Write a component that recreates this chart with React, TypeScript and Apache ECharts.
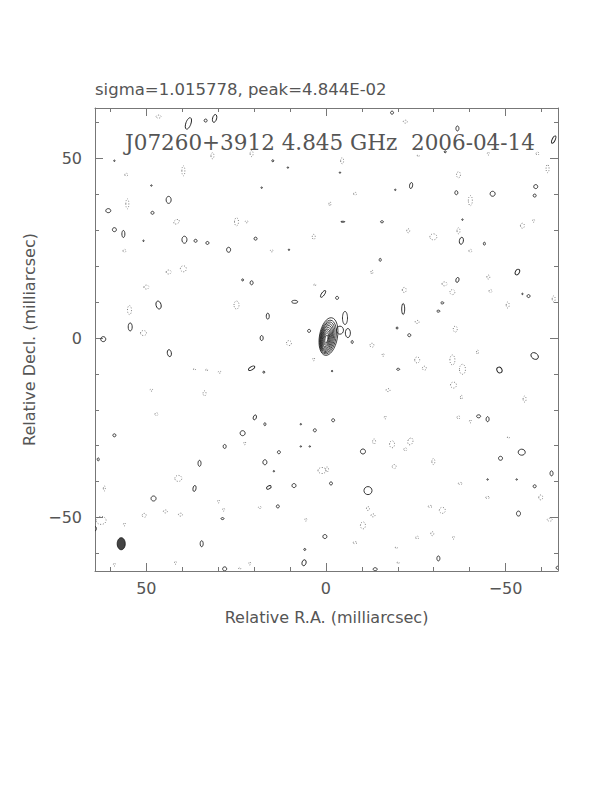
import React, { useEffect, useRef } from "react";
import * as echarts from "echarts";

// Contours: [ra, dec, semiAxisX, semiAxisY, tiltDegClockwise] in milliarcsec
const CORE_CONTOURS: number[][] = [
  [-0.7, 0.42, 2.51, 5.31, 10],
  [-0.56, 0.28, 2.23, 4.75, 10],
  [-0.45, 0.2, 1.96, 4.33, 10],
  [-0.34, 0.11, 1.73, 3.91, 10],
  [-0.25, 0.03, 1.51, 3.49, 10],
  [-0.17, -0.06, 1.28, 3.07, 10],
  [-0.11, -0.11, 1.06, 2.65, 10],
  [-0.08, -0.17, 0.84, 2.23, 10],
  [-0.08, -0.22, 0.61, 1.73, 10],
  [-0.11, -0.28, 0.39, 1.17, 10],
];

const POSITIVE_CONTOURS: number[][] = [
  [38.3, 59.8, 0.7, 1.68, 20], [33.5, 60.6, 0.42, 0.42, 0], [31.0, 61.2, 0.56, 1.12, 15],
  [43.8, 38.5, 0.7, 0.98, 0], [60.6, 35.5, 0.7, 0.56, 0], [48.3, 34.9, 0.42, 0.42, 0],
  [58.9, 30.2, 0.56, 0.56, 0], [56.4, 29.0, 0.42, 0.98, 0], [39.4, 27.4, 0.7, 0.98, 0],
  [36.3, 27.1, 0.42, 0.42, 0], [33.0, 26.5, 0.42, 0.42, 0], [27.1, 24.6, 0.56, 0.7, 0],
  [19.6, 27.7, 0.42, 0.42, 0], [14.8, 49.4, 0.28, 0.28, 0], [-18.4, 62.8, 0.42, 0.42, 0],
  [-36.6, 58.4, 0.42, 0.7, 0], [-63.4, 55.3, 0.42, 1.12, 25], [-33.2, 51.9, 0.28, 0.28, 0],
  [-23.7, 42.5, 0.42, 0.84, 10], [-36.3, 40.5, 0.42, 0.56, 0], [-46.4, 40.2, 0.7, 0.7, 0],
  [-58.4, 42.2, 0.56, 0.56, 0], [-58.1, 39.7, 0.42, 0.42, 0], [-15.6, 32.4, 0.42, 0.28, 0],
  [-4.7, 32.4, 0.56, 0.14, 0], [-37.7, 27.1, 0.56, 0.98, 10], [-44.1, 26.3, 0.28, 0.42, 0],
  [-15.1, 21.8, 0.28, 0.42, 0], [46.6, 9.2, 0.7, 1.12, -15], [54.5, 3.1, 0.56, 1.12, 0],
  [62.0, -0.3, 0.7, 0.7, 0], [43.6, -4.2, 0.56, 0.98, -10], [20.7, 15.4, 0.42, 0.56, 0],
  [23.2, 16.2, 0.28, 0.28, 0], [8.7, 10.1, 0.84, 0.42, 0], [16.2, 6.1, 0.42, 0.84, 0],
  [17.9, 0.0, 0.42, 0.7, 0], [4.7, 2.0, 0.42, 0.42, 0], [0.8, 12.3, 0.42, 1.12, 35],
  [20.7, -8.4, 0.98, 0.42, -30], [17.3, -9.5, 0.28, 0.28, 0], [19.8, -22.1, 0.42, 0.7, 20],
  [-3.1, 11.2, 0.42, 0.42, 0], [-5.3, 5.6, 0.7, 1.82, 0], [-3.9, 2.2, 0.98, 1.12, 0],
  [-6.1, 1.4, 0.7, 1.26, 0], [-7.3, -1.1, 0.28, 0.42, 0], [-21.5, 8.1, 0.42, 1.54, 0],
  [-19.8, 2.8, 0.28, 0.28, 0], [-23.2, 0.8, 0.42, 0.42, 0], [-36.6, 16.2, 0.42, 0.7, 15],
  [-32.4, 9.8, 0.42, 0.28, 0], [-31.3, 7.5, 0.42, 0.28, 0], [-53.3, 18.4, 0.56, 0.84, 30],
  [-56.4, 11.7, 0.42, 0.42, 0], [-58.1, -5.0, 1.12, 0.84, 35], [-48.3, -8.9, 0.7, 0.84, -30],
  [-20.1, -8.7, 0.42, 0.28, 0], [-42.5, -21.8, 0.56, 0.42, 0], [-45.0, -22.6, 0.42, 0.7, 0],
  [-2.0, -22.9, 0.42, 0.42, 0], [58.9, -27.1, 0.42, 0.42, 0], [23.2, -26.5, 0.7, 0.7, 0],
  [17.0, -24.0, 0.28, 0.42, 0], [3.1, -25.7, 0.42, 0.42, 0], [28.2, -30.2, 0.42, 0.56, 0],
  [63.4, -33.8, 0.28, 0.42, 0], [35.2, -34.9, 0.42, 0.84, 0], [17.0, -34.6, 0.56, 0.7, 0],
  [13.1, -31.8, 0.42, 0.42, 0], [36.6, -41.9, 0.42, 0.84, 10], [48.0, -44.7, 0.7, 0.7, 0],
  [15.9, -41.6, 0.7, 0.42, -30], [8.9, -41.1, 0.56, 0.56, 0], [13.4, -46.9, 0.42, 0.42, 0],
  [28.8, -50.3, 0.42, 0.28, 0], [34.6, -57.3, 0.42, 0.84, 0], [0.3, -55.3, 0.56, 0.56, 0],
  [5.9, -58.9, 0.28, 0.28, 0], [6.1, -62.6, 0.56, 0.84, 15], [28.2, -64.3, 0.56, 0.56, 0],
  [64.2, -53.1, 0.28, 0.56, 0], [-10.3, -31.6, 0.7, 0.7, 0], [-11.7, -42.5, 1.12, 1.12, 0],
  [-1.4, -40.5, 0.42, 0.42, 0], [-31.3, -61.4, 0.42, 0.7, 0], [-13.7, -64.4, 0.56, 0.42, 0],
  [-48.6, -33.5, 0.56, 0.56, 0], [-54.5, -31.8, 0.98, 0.84, 0], [-62.8, -37.7, 0.42, 0.7, 0],
  [-58.1, -41.3, 0.42, 0.42, 0], [-53.6, -48.9, 0.56, 0.7, 0], [-64.5, -64.0, 0.42, 0.42, 0],
  [-19.3, 41.3, 0.2, 0.2, 0], [-3.9, 46.1, 0.2, 0.2, 0], [-38.0, 33.0, 0.2, 0.2, 0],
  [58.9, 49.4, 0.2, 0.2, 0], [10.6, 47.5, 0.2, 0.2, 0], [17.9, 41.9, 0.2, 0.2, 0],
  [48.6, 42.5, 0.2, 0.2, 0], [50.8, 27.1, 0.2, 0.2, 0], [10.3, 24.6, 0.2, 0.2, 0],
  [7.0, -30.2, 0.2, 0.2, 0], [4.5, -30.2, 0.2, 0.2, 0], [14.5, -37.1, 0.2, 0.2, 0],
  [7.0, -24.0, 0.2, 0.2, 0], [-45.0, -39.4, 0.2, 0.2, 0], [-53.1, -39.4, 0.2, 0.2, 0],
  [-1.7, -9.2, 0.2, 0.2, 0], [-54.7, 12.3, 0.2, 0.2, 0],
];

const NEGATIVE_CONTOURS: number[][] = [
  [46.6, 61.7, 0.7, 0.42, 0], [39.7, 46.6, 0.42, 1.4, 0], [55.6, 45.5, 0.42, 0.42, 0],
  [31.6, 50.8, 0.42, 0.84, 0], [20.7, 51.4, 0.42, 0.84, 0], [55.3, 37.4, 0.42, 1.4, 0],
  [41.6, 32.4, 0.84, 0.56, -30], [24.9, 32.4, 0.56, 1.12, 0], [22.1, 32.4, 0.42, 0.28, 0],
  [3.4, 28.2, 0.42, 0.7, 0], [56.1, 24.3, 0.42, 0.42, 0], [15.1, 24.3, 0.42, 0.28, 0],
  [-22.1, 60.3, 0.56, 0.42, 0], [-4.5, 49.4, 0.42, 0.84, 0], [-36.9, 45.5, 0.56, 0.84, 0],
  [-40.2, 38.3, 0.56, 1.4, 0], [-29.9, 28.2, 0.98, 0.84, 0], [-36.9, 29.9, 0.42, 0.84, 0],
  [-61.7, 47.2, 0.42, 1.12, 0], [-54.7, 31.3, 0.56, 0.7, 0], [-57.8, 32.7, 0.28, 0.42, 0],
  [-22.9, 29.9, 0.42, 0.56, 0], [-8.1, 40.2, 0.42, 0.42, 0], [-1.1, 37.4, 0.28, 0.56, 0],
  [-40.2, 24.3, 0.42, 0.42, 0], [-25.7, 50.8, 0.28, 0.28, 0], [-45.2, 51.4, 0.28, 0.42, 0],
  [-58.9, 51.4, 0.42, 0.42, 0], [43.8, 18.4, 0.7, 0.56, 0], [39.7, 19.3, 0.84, 0.84, 0],
  [50.0, 14.2, 0.7, 0.56, 0], [54.7, 7.8, 0.56, 1.26, 0], [24.9, 9.2, 0.7, 1.12, 0],
  [50.8, 1.4, 0.84, 0.7, 0], [10.3, -1.4, 0.7, 0.7, 0], [48.6, -14.5, 0.42, 0.28, 0],
  [33.8, -15.4, 0.42, 0.7, 0], [47.2, -21.2, 0.42, 0.42, 0], [36.6, -8.7, 0.28, 0.28, 0],
  [29.6, -9.5, 0.42, 0.28, 0], [33.2, -8.9, 0.28, 0.28, 0], [3.1, 14.8, 0.28, 0.28, 0],
  [3.4, -5.9, 0.28, 0.42, 0], [-12.8, 18.4, 0.28, 0.56, 0], [-21.8, 13.4, 0.56, 0.7, 0],
  [-33.0, 15.1, 0.7, 0.56, 0], [-35.2, 12.8, 0.7, 0.7, 0], [-45.2, 17.0, 0.42, 0.56, 0],
  [-45.8, 13.1, 0.42, 0.42, 0], [-50.6, 9.2, 0.42, 0.84, 0], [-25.4, 4.5, 0.56, 0.42, 0],
  [-36.0, 2.5, 0.56, 0.84, 0], [-12.8, -2.0, 0.56, 0.56, 0], [-25.4, -6.1, 0.7, 0.84, 0],
  [-27.4, -8.4, 0.56, 0.56, 0], [-35.2, -6.1, 0.7, 1.4, 0], [-38.0, -8.7, 0.84, 1.4, 0],
  [-35.5, -13.1, 0.84, 0.84, 0], [-55.3, -17.0, 0.42, 0.84, 0], [-63.4, 10.9, 0.42, 0.84, 0],
  [-17.3, -14.5, 0.56, 0.42, 0], [-37.7, -16.5, 0.28, 0.56, 0], [-16.5, -22.1, 0.28, 0.42, 0],
  [-36.9, -22.1, 0.42, 0.42, 0], [-15.9, -4.7, 0.28, 0.42, 0], [-42.2, -3.9, 0.28, 0.56, 0],
  [41.1, -39.1, 0.98, 0.84, 0], [61.7, -41.9, 0.28, 0.7, 0], [50.6, -49.4, 0.56, 0.56, 0],
  [44.7, -48.3, 0.56, 0.42, 0], [40.5, -49.2, 0.56, 0.42, 0], [62.6, -50.8, 1.4, 1.12, 0],
  [1.1, -36.9, 1.12, 0.84, 0], [29.9, -45.5, 0.28, 0.42, 0], [58.9, -63.1, 0.28, 0.42, 0],
  [41.9, -62.6, 0.28, 0.42, 0], [24.0, -64.2, 0.28, 0.28, 0], [21.2, -62.8, 0.28, 0.42, 0],
  [5.6, -50.6, 0.28, 0.42, 0], [56.1, -51.9, 0.28, 0.42, 0], [18.4, -47.2, 0.42, 0.28, 0],
  [28.5, -47.8, 0.28, 0.42, 0], [22.6, -29.3, 0.28, 0.42, 0], [-13.4, -28.8, 0.42, 0.7, 0],
  [-18.4, -29.6, 0.7, 0.98, 0], [-23.5, -28.8, 0.7, 0.98, 20], [-22.1, -31.0, 0.42, 0.42, 0],
  [-29.9, -34.4, 0.42, 0.84, 0], [-19.0, -35.8, 0.56, 0.56, 0], [-0.3, -36.6, 0.42, 0.7, 0],
  [-11.7, -47.5, 0.42, 0.56, 0], [-13.1, -49.4, 0.56, 0.42, 0], [-10.3, -52.2, 0.7, 0.98, 0],
  [-32.4, -48.0, 0.84, 0.84, 0], [-29.0, -46.9, 0.56, 0.28, 0], [-37.4, -40.5, 0.56, 0.28, 0],
  [-45.0, -44.4, 0.56, 0.28, 0], [-59.8, -44.4, 0.56, 0.7, 0], [-62.3, -50.6, 0.7, 0.42, 0],
  [-8.1, -57.0, 0.56, 0.28, 0], [-25.4, -55.6, 0.42, 0.42, 0], [-29.6, -54.5, 0.42, 0.56, 0],
  [-35.5, -55.6, 0.28, 0.42, 0], [-19.6, -58.4, 0.28, 0.28, 0], [-20.1, -62.6, 0.28, 0.28, 0],
  [-50.8, -27.7, 0.28, 0.28, 0], [-40.2, -23.2, 0.28, 0.42, 0],
];

const BEAM: number[][] = [[57.0, -57.3, 1.12, 1.68, 0]];

const MAJOR_TICKS = [-50, 0, 50];
const MINOR_TICKS = [-60, -40, -30, -20, -10, 10, 20, 30, 40, 60];

const TITLE_TOP = "sigma=1.015778, peak=4.844E-02";
const TITLE_IN = "J07260+3912 4.845 GHz  2006-04-14";
const X_NAME = "Relative R.A. (milliarcsec)";
const Y_NAME = "Relative Decl. (milliarcsec)";

const TEXT_COLOR = "#555";
const FRAME_COLOR = "#777";

function makeRender(style: any) {
  return (params: any, api: any) => {
    const c = api.coord([api.value(0), api.value(1)]);
    const s = api.size([api.value(2), api.value(3)]);
    return {
      type: "ellipse",
      x: c[0],
      y: c[1],
      rotation: (-api.value(4) * Math.PI) / 180,
      shape: { cx: 0, cy: 0, rx: Math.abs(s[0]), ry: Math.abs(s[1]) },
      style: { ...style },
    };
  };
}

const fmt = (v: number) => (v < 0 ? "\u2212" + Math.abs(v) : String(v));

export default function App() {
  const ref = useRef<HTMLDivElement>(null);
  useEffect(() => {
    if (!ref.current) return;
    const chart = echarts.init(ref.current, undefined, { renderer: "svg" });
    const xBase = { type: "value", min: -64.6, max: 64.3, inverse: true, gridIndex: 0, splitLine: { show: false } };
    const yBase = { type: "value", min: -64.9, max: 64.1, gridIndex: 0, splitLine: { show: false } };
    const line = { show: true, onZero: false, lineStyle: { color: FRAME_COLOR, width: 1 } };
    const noLine = { show: false, onZero: false };
    const majorTick = { show: true, inside: true, length: 8, customValues: MAJOR_TICKS, lineStyle: { color: FRAME_COLOR, width: 1 } };
    const minorTick = { show: true, inside: true, length: 4, customValues: MINOR_TICKS, lineStyle: { color: FRAME_COLOR, width: 1 } };
    const label = {
      show: true,
      customValues: MAJOR_TICKS,
      formatter: fmt,
      color: TEXT_COLOR,
      fontFamily: "DejaVu Sans",
      fontSize: 16,
    };
    const option: any = {
      animation: false,
      backgroundColor: "#fff",
      grid: { left: 95, top: 108, width: 463, height: 463, containLabel: false },
      xAxis: [
        {
          ...xBase, position: "bottom", axisLine: line, axisTick: majorTick,
          axisLabel: { ...label, margin: 9 },
          name: X_NAME, nameLocation: "middle", nameGap: 38,
          nameTextStyle: { color: TEXT_COLOR, fontFamily: "DejaVu Sans", fontSize: 16 },
        },
        { ...xBase, position: "bottom", axisLine: noLine, axisTick: minorTick, axisLabel: { show: false } },
        { ...xBase, position: "top", axisLine: line, axisTick: majorTick, axisLabel: { show: false } },
        { ...xBase, position: "top", axisLine: noLine, axisTick: minorTick, axisLabel: { show: false } },
      ],
      yAxis: [
        {
          ...yBase, position: "left", axisLine: line, axisTick: majorTick,
          axisLabel: { ...label, margin: 13 },
          name: Y_NAME, nameLocation: "middle", nameGap: 46,
          nameTextStyle: { color: TEXT_COLOR, fontFamily: "DejaVu Sans", fontSize: 16 },
        },
        { ...yBase, position: "left", axisLine: noLine, axisTick: minorTick, axisLabel: { show: false } },
        { ...yBase, position: "right", axisLine: line, axisTick: majorTick, axisLabel: { show: false } },
        { ...yBase, position: "right", axisLine: noLine, axisTick: minorTick, axisLabel: { show: false } },
      ],
      graphic: [
        {
          type: "text", left: 95, top: 81,
          style: { text: TITLE_TOP, fill: TEXT_COLOR, font: "16.5px 'DejaVu Sans'" },
        },
        {
          type: "text", x: 330, y: 142,
          style: { text: TITLE_IN, fill: TEXT_COLOR, font: "21.5px 'DejaVu Serif'", align: "center", verticalAlign: "middle" },
        },
      ],
      series: [
        {
          type: "custom", name: "negative", xAxisIndex: 0, yAxisIndex: 0, clip: true,
          data: NEGATIVE_CONTOURS,
          renderItem: makeRender({ fill: "none", stroke: "#666", lineWidth: 0.8, lineDash: [1, 1.6] }),
        },
        {
          type: "custom", name: "positive", xAxisIndex: 0, yAxisIndex: 0, clip: true,
          data: POSITIVE_CONTOURS,
          renderItem: makeRender({ fill: "none", stroke: "#222", lineWidth: 0.9 }),
        },
        {
          type: "custom", name: "core", xAxisIndex: 0, yAxisIndex: 0, clip: true,
          data: CORE_CONTOURS,
          renderItem: makeRender({ fill: "none", stroke: "#222", lineWidth: 0.8 }),
        },
        {
          type: "custom", name: "beam", xAxisIndex: 0, yAxisIndex: 0, clip: true,
          data: BEAM,
          renderItem: makeRender({ fill: "#444", stroke: "#111", lineWidth: 0.8 }),
        },
      ],
    };
    chart.setOption(option);
    return () => chart.dispose();
  }, []);
  return (
    <div
      ref={ref}
      style={{ position: "fixed", left: 0, top: 0, width: 612, height: 792, background: "#fff" }}
    />
  );
}
